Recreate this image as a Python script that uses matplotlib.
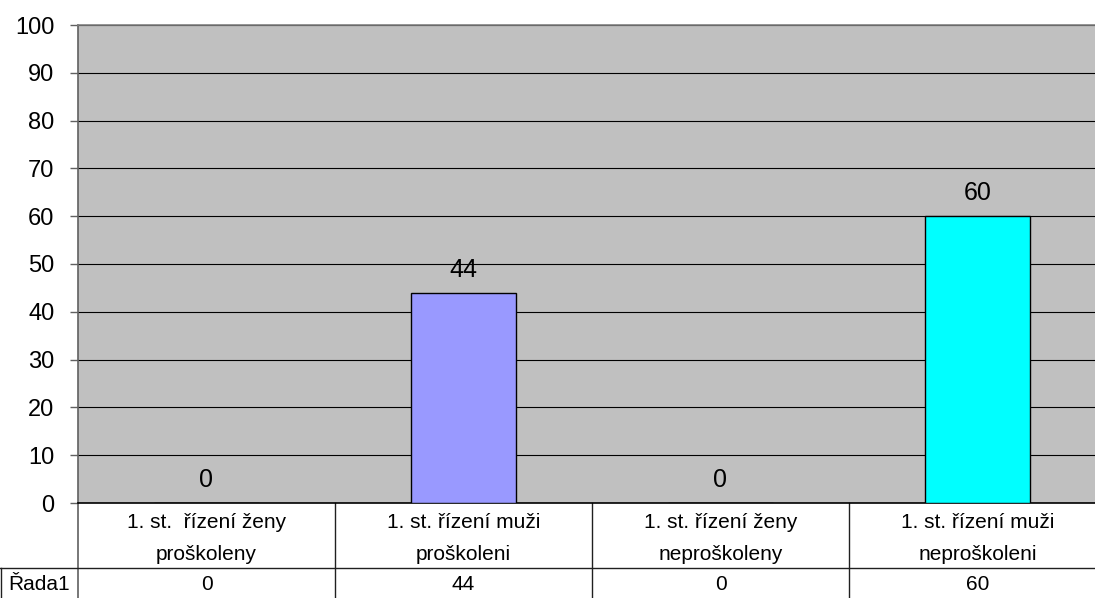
import matplotlib
matplotlib.use("Agg")
import matplotlib.pyplot as plt
from matplotlib.transforms import blended_transform_factory

plt.rcParams['font.family'] = ['Liberation Sans', 'DejaVu Sans']

categories = [
    "1. st.  řízení ženy\nproškoleny",
    "1. st. řízení muži\nproškoleni",
    "1. st. řízení ženy\nneproškoleny",
    "1. st. řízení muži\nneproškoleni",
]
values = [0, 44, 0, 60]
series_name = "Řada1"
bar_colors = ["#9999FF", "#9999FF", "#9999FF", "#00FFFF"]
yticks = list(range(0, 101, 10))

W, H = 1095, 598
fig = plt.figure(figsize=(W / 100, H / 100), dpi=100)
fig.patch.set_facecolor("white")

# plot area in pixels: left 78, right 1106 (runs past the right edge), top 25, bottom 503
left, right, top, bottom = 78, 1106, 25, 503
ax = fig.add_axes([left / W, (H - bottom) / H, (right - left) / W, (bottom - top) / H])
ax.set_facecolor("#C0C0C0")

x = list(range(len(categories)))
ax.set_xlim(-0.5, len(categories) - 0.5)
ax.set_ylim(0, 100)
ax.set_axisbelow(True)
ax.yaxis.grid(True, color="black", linewidth=0.8)

bars = ax.bar(x, values, width=0.41, color=bar_colors, edgecolor="black", linewidth=1.0, zorder=3)
for xi, v in zip(x, values):
    ax.annotate(f"{v}", (xi, v), xytext=(0, 16.5), textcoords="offset points",
                ha="center", va="center", fontsize=18, color="black", zorder=4)

ax.set_yticks(yticks)
ax.set_yticklabels([str(t) for t in yticks])
ax.set_xticks([])
ax.tick_params(axis="y", direction="out", length=6, width=1.0, color="#606060",
               labelsize=17, pad=11)

ax.spines["right"].set_visible(False)
ax.spines["top"].set_color("#808080")
ax.spines["top"].set_linewidth(1.2)
ax.spines["left"].set_color("#606060")
ax.spines["left"].set_linewidth(1.2)
ax.spines["bottom"].set_color("black")
ax.spines["bottom"].set_linewidth(1.2)

# data table under the chart
tr = ax.get_xaxis_transform()
px = (bottom - top)  # pixels per axes-fraction unit


def ypix(p):
    """Axes-fraction y for a pixel row measured from the top of the figure."""
    return -(p - bottom) / px


row1_bottom = ypix(568)
table_bottom = ypix(H + 5)
line_kw = dict(color="#202020", linewidth=1.0, clip_on=False)

# vertical separators between categories, the first one continuing the value axis
for b in [i - 0.5 for i in range(len(categories))]:
    if b == -0.5:
        ax.plot([b, b], [0, table_bottom], transform=tr, color="#606060", linewidth=1.2, clip_on=False)
    else:
        ax.plot([b, b], [0, table_bottom], transform=tr, **line_kw)

# row separator, running under the row header cell too
fig_x = blended_transform_factory(fig.transFigure, ax.transAxes)
ax.plot([0, 1], [row1_bottom, row1_bottom], transform=fig_x, **line_kw)
ax.plot([0.5 / W, 0.5 / W], [row1_bottom, table_bottom], transform=fig_x, **line_kw)

table_fs = 15
for xi, cat, v in zip(x, categories, values):
    line1, line2 = cat.split("\n")
    ax.text(xi, ypix(523), line1, transform=tr, ha="center", va="center",
            fontsize=table_fs, clip_on=False)
    ax.text(xi, ypix(555), line2, transform=tr, ha="center", va="center",
            fontsize=table_fs, clip_on=False)
    ax.text(xi, ypix(585), str(v), transform=tr, ha="center", va="center",
            fontsize=table_fs, clip_on=False)

ax.text(8 / W, ypix(585), series_name, transform=fig_x, ha="left", va="center",
        fontsize=table_fs, clip_on=False)

fig.savefig("out.png", dpi=100)
